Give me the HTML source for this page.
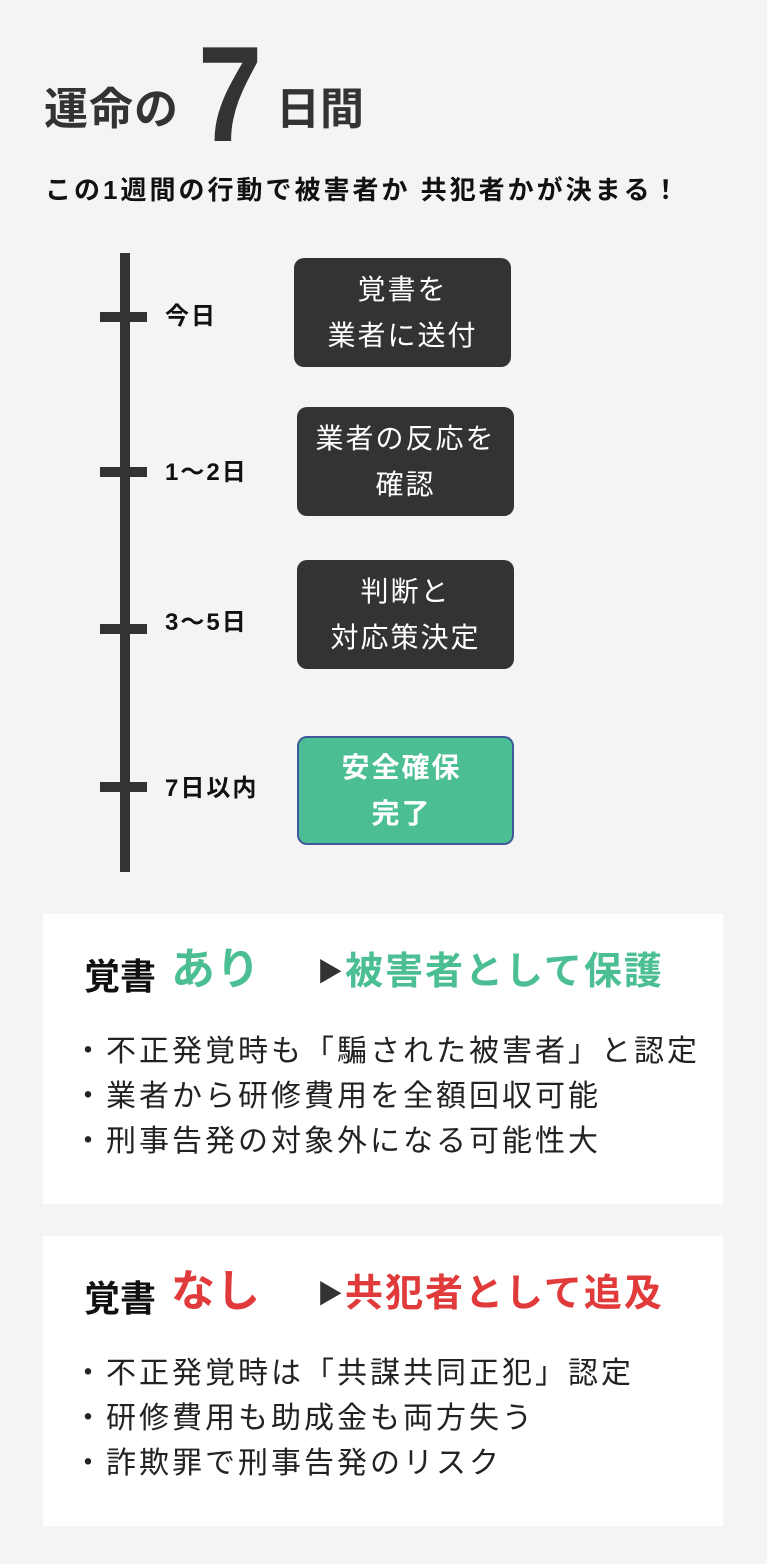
<!DOCTYPE html>
<html><head><meta charset="utf-8"><style>
body{margin:0;width:767px;height:1564px;background:#f4f4f4;position:relative;font-family:"Liberation Sans","Noto Sans CJK JP",sans-serif;overflow:hidden}
.a{position:absolute;white-space:nowrap}
.t{font-weight:bold;color:#333}
.box{position:absolute;background:#333;border-radius:10px;color:#fff;font-size:28px;letter-spacing:2px;line-height:46px;text-align:center;display:flex;align-items:center;justify-content:center}
.lab{position:absolute;left:165px;font-size:24px;letter-spacing:2px;font-weight:bold;color:#111;line-height:30px}
.tick{position:absolute;left:100px;width:47px;height:10px;background:#333}
.card{position:absolute;left:43px;width:680px;height:290px;background:#fff}
.li{position:absolute;left:30px;font-size:30px;letter-spacing:3px;color:#222;line-height:36px}
</style></head><body>
<div class="a t" style="left:44px;top:82px;font-size:44px;letter-spacing:1px;line-height:56px">運命の</div>
<div class="a t" style="left:198px;top:28px;font-size:136px;line-height:132px;transform:scaleX(0.85);transform-origin:left">7</div>
<div class="a t" style="left:276px;top:82px;font-size:44px;line-height:56px">日間</div>
<div class="a" style="left:45px;top:174px;font-size:26px;letter-spacing:3px;font-weight:bold;color:#111;line-height:32px">この1週間の行動で被害者か 共犯者かが決まる！</div>

<div style="position:absolute;left:120px;top:253px;width:10px;height:619px;background:#333"></div>
<div class="tick" style="top:312px"></div>
<div class="tick" style="top:467px"></div>
<div class="tick" style="top:624px"></div>
<div class="tick" style="top:782px"></div>
<div class="lab" style="top:302px">今日</div>
<div class="lab" style="top:458px">1〜2日</div>
<div class="lab" style="top:608px">3〜5日</div>
<div class="lab" style="top:774px">7日以内</div>

<div class="box" style="left:294px;top:258px;width:217px;height:109px">覚書を<br>業者に送付</div>
<div class="box" style="left:297px;top:407px;width:217px;height:109px">業者の反応を<br>確認</div>
<div class="box" style="left:297px;top:560px;width:217px;height:109px">判断と<br>対応策決定</div>
<div class="box" style="left:297px;top:736px;width:213px;height:105px;background:#4bbf93;border:2px solid #3d5a9a;font-weight:bold"><span style="position:relative;left:-4px">安全確保<br>完了</span></div>

<div class="card" style="top:914px">
<div class="a" style="left:41px;top:38px;font-size:36px;font-weight:bold;color:#111;line-height:50px">覚書</div>
<div class="a" style="left:128px;top:28px;font-size:44px;letter-spacing:1px;font-weight:bold;color:#4bbf93;line-height:56px">あり</div>
<div class="a" style="left:274px;top:36px;font-size:26px;color:#333;line-height:44px">▶</div>
<div class="a" style="left:302px;top:34px;font-size:38px;letter-spacing:2px;font-weight:bold;color:#4bbf93;line-height:48px">被害者として保護</div>
<div class="li" style="top:120px">・不正発覚時も「騙された被害者」と認定</div>
<div class="li" style="top:165px">・業者から研修費用を全額回収可能</div>
<div class="li" style="top:210px">・刑事告発の対象外になる可能性大</div>
</div>
<div class="card" style="top:1236px">
<div class="a" style="left:41px;top:38px;font-size:36px;font-weight:bold;color:#111;line-height:50px">覚書</div>
<div class="a" style="left:128px;top:28px;font-size:44px;letter-spacing:1px;font-weight:bold;color:#e03a3a;line-height:56px">なし</div>
<div class="a" style="left:274px;top:36px;font-size:26px;color:#333;line-height:44px">▶</div>
<div class="a" style="left:302px;top:34px;font-size:38px;letter-spacing:2px;font-weight:bold;color:#e03a3a;line-height:48px">共犯者として追及</div>
<div class="li" style="top:120px">・不正発覚時は「共謀共同正犯」認定</div>
<div class="li" style="top:165px">・研修費用も助成金も両方失う</div>
<div class="li" style="top:210px">・詐欺罪で刑事告発のリスク</div>
</div>
</body></html>
